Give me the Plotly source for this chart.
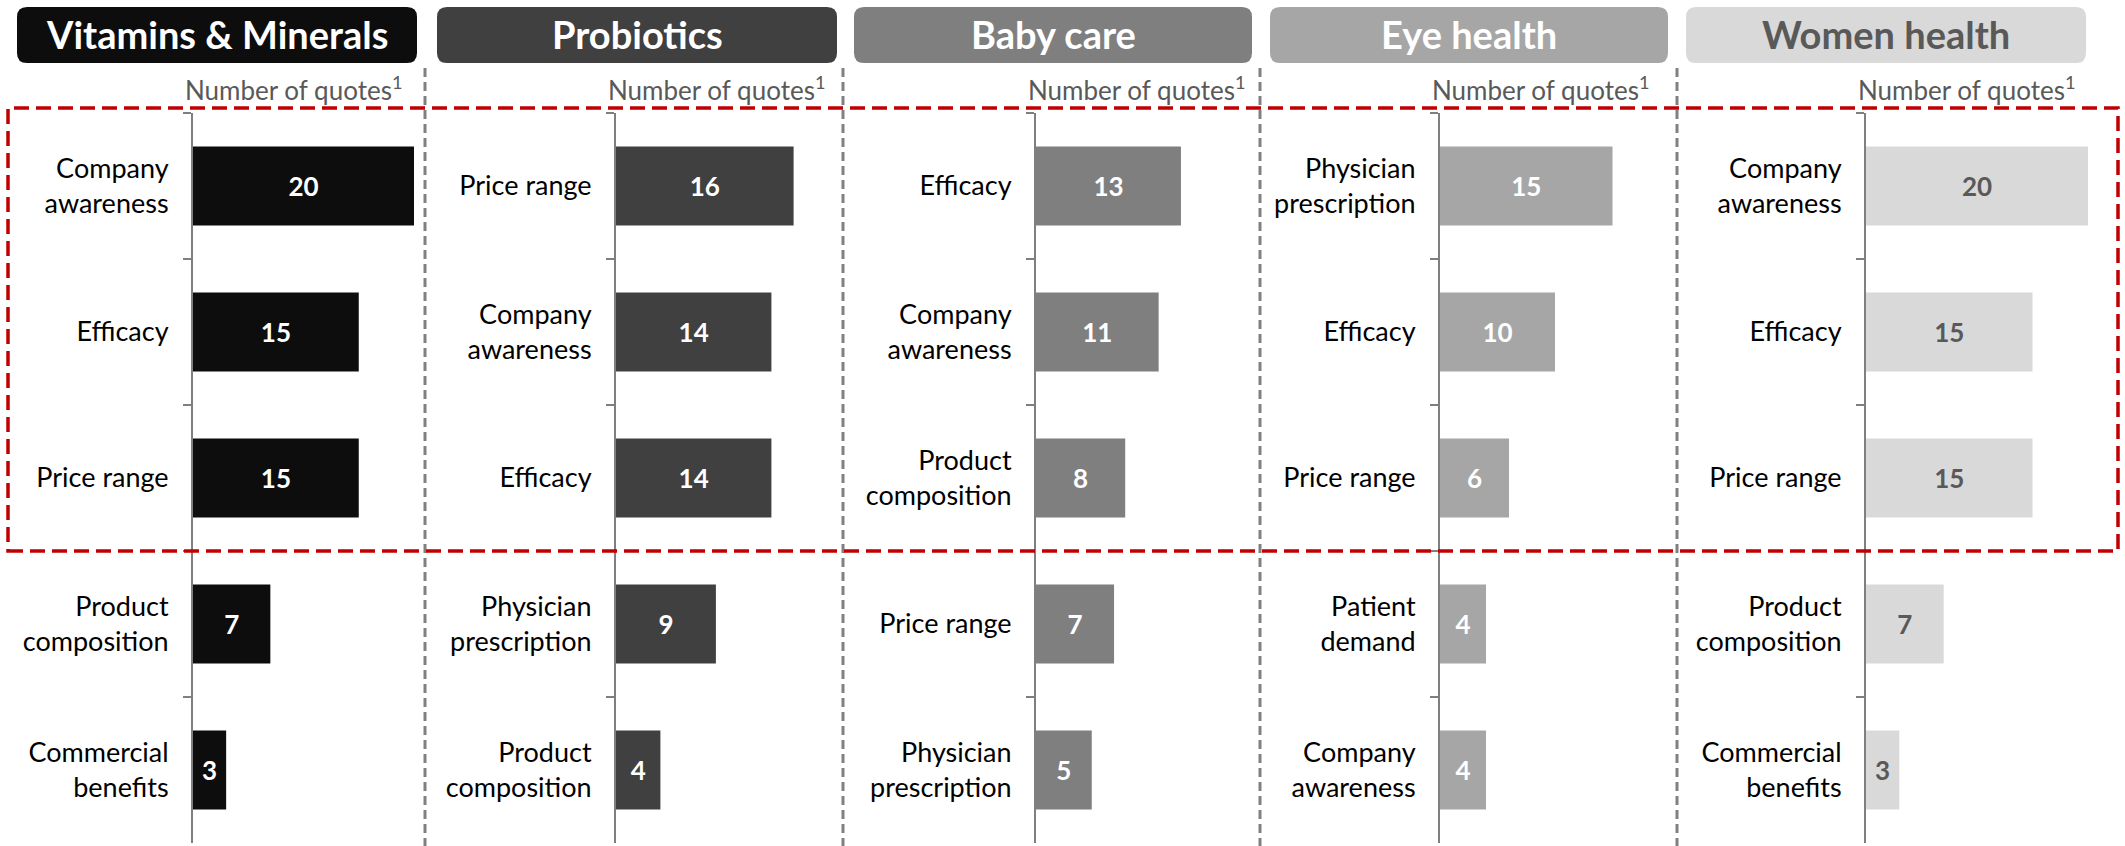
import plotly.graph_objects as go

## taille de la page
W, H = 2125, 846

## titres des catégories de produits
titles = ['Vitamins & Minerals', 'Probiotics', 'Baby care', 'Eye health', 'Women health']

## critères et nombre de citations par catégorie
vit_labels = ['Company<br>awareness', 'Efficacy', 'Price range', 'Product<br>composition', 'Commercial<br>benefits']
vit_values = [20, 15, 15, 7, 3]

pro_labels = ['Price range', 'Company<br>awareness', 'Efficacy', 'Physician<br>prescription', 'Product<br>composition']
pro_values = [16, 14, 14, 9, 4]

baby_labels = ['Efficacy', 'Company<br>awareness', 'Product<br>composition', 'Price range', 'Physician<br>prescription']
baby_values = [13, 11, 8, 7, 5]

eye_labels = ['Physician<br>prescription', 'Efficacy', 'Price range', 'Patient<br>demand', 'Company<br>awareness']
eye_values = [15, 10, 6, 4, 4]

women_labels = ['Company<br>awareness', 'Efficacy', 'Price range', 'Product<br>composition', 'Commercial<br>benefits']
women_values = [20, 15, 15, 7, 3]

panels = [(vit_labels, vit_values), (pro_labels, pro_values), (baby_labels, baby_values),
          (eye_labels, eye_values), (women_labels, women_values)]

## styles
bar_colors = ['#0d0d0d', '#404040', '#7f7f7f', '#a6a6a6', '#d9d9d9']
text_colors = ['white', 'white', 'white', 'white', '#595959']
FONT = 'Lato'

## positions en pixels
axis_px = [193, 616, 1036, 1440, 1866]
unit_px = [11.05, 11.1, 11.15, 11.5, 11.1]
header_px = [(17, 417), (437, 837), (854, 1252), (1270, 1668), (1686, 2086)]
sep_px = [425, 843, 1260, 1677]
X_MAX = 21


def px(x): return x / W
def py(y): return 1 - y / H


def rounded(x0, y0, x1, y1, r=10):
    '''
    chemin svg d'un rectangle arrondi (coordonnées paper)
    '''
    X0, X1, T, B = px(x0), px(x1), py(y0), py(y1)
    rx, ry = r / W, r / H
    return (f'M {X0+rx},{T} L {X1-rx},{T} Q {X1},{T} {X1},{T-ry} '
            f'L {X1},{B+ry} Q {X1},{B} {X1-rx},{B} L {X0+rx},{B} '
            f'Q {X0},{B} {X0},{B+ry} L {X0},{T-ry} Q {X0},{T} {X0+rx},{T} Z')


fig = go.Figure()
shapes = []
annotations = []
axes = {}

for i, (labels, values) in enumerate(panels):
    n = '' if i == 0 else str(i + 1)

    ## barres horizontales
    fig.add_trace(go.Bar(
        x=values, y=labels, orientation='h',
        xaxis='x' + n, yaxis='y' + n,
        marker=dict(color=bar_colors[i], line_width=0),
        width=0.54,
        text=values, texttemplate='<b>%{text}</b>',
        textposition='inside', insidetextanchor='middle', textangle=0,
        constraintext='none',
        textfont=dict(family=FONT, size=26, color=text_colors[i]),
        hoverinfo='skip', showlegend=False,
    ))

    ## axes
    x0 = axis_px[i]
    axes['xaxis' + n] = dict(domain=[px(x0), px(x0 + X_MAX * unit_px[i])], range=[0, X_MAX],
                             anchor='y' + n, visible=False, fixedrange=True)
    axes['yaxis' + n] = dict(domain=[py(843), py(113)], anchor='x' + n, type='category',
                             autorange='reversed', showline=True, linecolor='#7f7f7f', linewidth=2,
                             ticks='outside', tickson='boundaries', ticklen=8, tickwidth=2,
                             tickcolor='#7f7f7f', ticklabelstandoff=17, showgrid=False,
                             zeroline=False, fixedrange=True,
                             tickfont=dict(family=FONT, size=27, color='#000000'))

    ## bandeau titre
    hx0, hx1 = header_px[i]
    shapes.append(dict(type='path', path=rounded(hx0, 7, hx1, 63), xref='paper', yref='paper',
                       fillcolor=bar_colors[i], line_width=0, layer='below'))
    annotations.append(dict(text='<b>' + titles[i] + '</b>', x=px((hx0 + hx1) / 2), y=py(34),
                            xref='paper', yref='paper', showarrow=False,
                            xanchor='center', yanchor='middle',
                            font=dict(family=FONT, size=38, color=text_colors[i])))

    ## sous-titre de l'axe
    annotations.append(dict(text='Number of quotes<sup>1</sup>', x=px(x0 + 211), y=py(88),
                            xref='paper', yref='paper', showarrow=False,
                            xanchor='right', yanchor='middle',
                            font=dict(family=FONT, size=26, color='#595959')))

## séparateurs verticaux
for s in sep_px:
    shapes.append(dict(type='line', x0=px(s), x1=px(s), y0=py(68), y1=0,
                       xref='paper', yref='paper',
                       line=dict(color='#808080', width=3, dash='9px,5px')))

## cadre rouge (top 3)
shapes.append(dict(type='rect', x0=px(8), x1=px(2118), y0=py(551), y1=py(108),
                   xref='paper', yref='paper',
                   line=dict(color='#c00000', width=3.5, dash='15px,7px'), layer='above'))

fig.update_layout(width=W, height=H, margin=dict(l=0, r=0, t=0, b=0),
                  paper_bgcolor='white', plot_bgcolor='white',
                  shapes=shapes, annotations=annotations, bargap=0.46,
                  **axes)

## supprime la marge par défaut de la page et la barre d'outils
fig.write_html('out.html', config={'displayModeBar': False},
               post_script="document.body.style.margin='0';")
